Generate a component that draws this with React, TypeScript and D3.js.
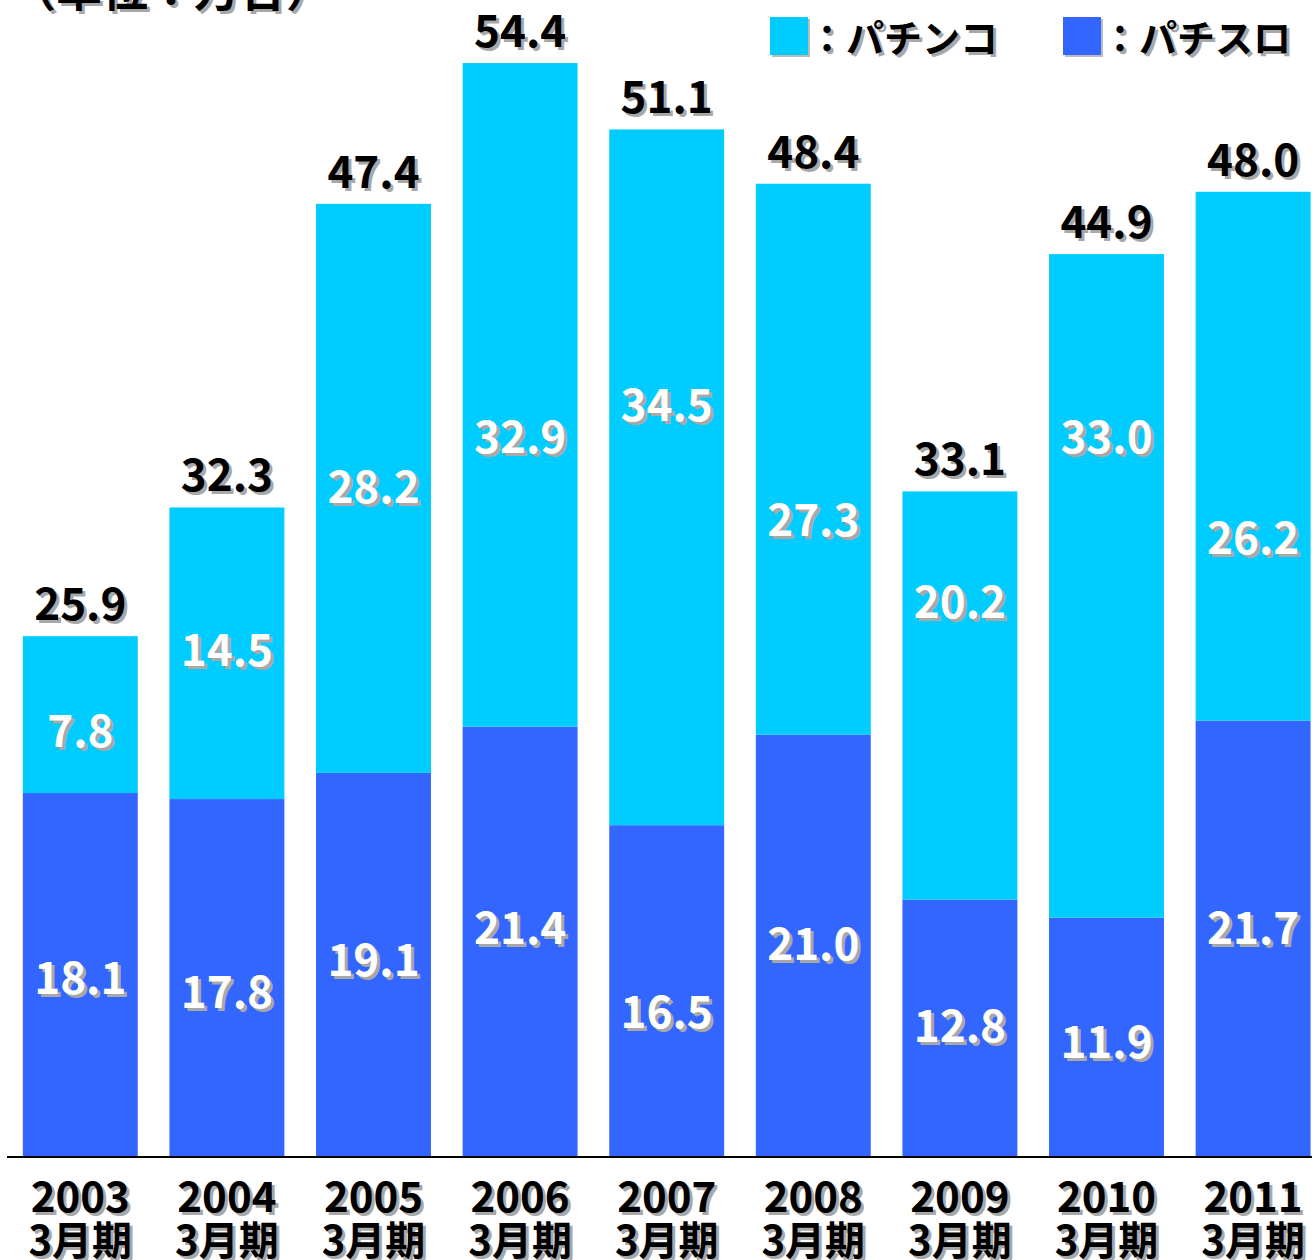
import React, { useEffect, useRef } from "react";
import * as d3 from "d3";

const years = ["2003", "2004", "2005", "2006", "2007", "2008", "2009", "2010", "2011"];
const pachislo = [18.1, 17.8, 19.1, 21.4, 16.5, 21.0, 12.8, 11.9, 21.7];
const pachinko = [7.8, 14.5, 28.2, 32.9, 34.5, 27.3, 20.2, 33.0, 26.2];
const totals = [25.9, 32.3, 47.4, 54.4, 51.1, 48.4, 33.1, 44.9, 48.0];
// where the inner labels sit, in chart units (placed by hand in the original)
const pachinkoLabelAt = [21.2, 25.2, 33.3, 35.8, 37.4, 31.7, 27.6, 35.8, 30.8];
const pachisloLabelAt = [8.9, 8.2, 9.8, 11.4, 7.2, 10.6, 6.5, 5.7, 11.4];
const periodLabel = "3月期";
const unitLabel = "（単位：万台）";
const legendItems = ["：パチンコ", "：パチスロ"];

const CYAN = "#00CCFF";
const BLUE = "#3366FF";
const FONT = "'Noto Sans CJK JP', 'Noto Sans', sans-serif";

const App: React.FC = () => {
  const svgRef = useRef<SVGSVGElement>(null);

  useEffect(() => {
    document.body.style.margin = "0";
    if (!svgRef.current) return;

    const width = 1312;
    const height = 1260;
    const baseY = 1157;

    const svg = d3.select(svgRef.current);
    svg.selectAll("*").remove();
    svg.attr("width", width).attr("height", height);

    const x = d3
      .scaleBand<string>()
      .domain(years)
      .range([7, 7 + 146.6 * years.length])
      .paddingInner(0.216)
      .paddingOuter(0.108);

    const y = d3.scaleLinear().domain([0, 55]).range([baseY, 51]);

    // text with the grey drop shadow used all over the original
    const shadowText = (
      g: d3.Selection<SVGGElement, unknown, null, undefined>,
      tx: number,
      ty: number,
      label: string,
      fill: string,
      size: number,
      anchor = "middle"
    ) => {
      [
        { dx: 3, dy: 3, c: "#a8a8a8" },
        { dx: 0, dy: 0, c: fill },
      ].forEach((s) => {
        g.append("text")
          .attr("x", tx + s.dx)
          .attr("y", ty + s.dy)
          .attr("text-anchor", anchor)
          .attr("font-family", FONT)
          .attr("font-weight", 700)
          .attr("font-size", size)
          .attr("fill", s.c)
          .text(label);
      });
    };

    const g = svg.append("g");

    // bars
    years.forEach((yr, i) => {
      const bx = x(yr) as number;
      const bw = x.bandwidth();
      g.append("rect")
        .attr("x", bx)
        .attr("y", y(pachislo[i]))
        .attr("width", bw)
        .attr("height", y(0) - y(pachislo[i]))
        .attr("fill", BLUE);
      g.append("rect")
        .attr("x", bx)
        .attr("y", y(totals[i]))
        .attr("width", bw)
        .attr("height", y(pachislo[i]) - y(totals[i]))
        .attr("fill", CYAN);
    });

    // axis line
    g.append("line")
      .attr("x1", 7)
      .attr("x2", width)
      .attr("y1", baseY)
      .attr("y2", baseY)
      .attr("stroke", "#000")
      .attr("stroke-width", 2);

    // value labels
    years.forEach((yr, i) => {
      const cx = (x(yr) as number) + x.bandwidth() / 2;
      shadowText(g, cx, y(totals[i]) - 16, totals[i].toFixed(1), "#000", 44);
      shadowText(g, cx, y(pachinkoLabelAt[i]) + 16, pachinko[i].toFixed(1), "#fff", 44);
      shadowText(g, cx, y(pachisloLabelAt[i]) + 16, pachislo[i].toFixed(1), "#fff", 44);
      shadowText(g, cx, 1212, yr, "#000", 42);
      shadowText(g, cx, 1255, periodLabel, "#000", 40);
    });

    // unit note, cut off at the top edge
    shadowText(g, 10, 6, unitLabel, "#000", 46, "start");

    // legend
    const legendX = [770, 1063];
    [CYAN, BLUE].forEach((c, i) => {
      g.append("rect")
        .attr("x", legendX[i] + 2)
        .attr("y", 19)
        .attr("width", 38)
        .attr("height", 38)
        .attr("fill", "#bbb");
      g.append("rect")
        .attr("x", legendX[i])
        .attr("y", 17)
        .attr("width", 38)
        .attr("height", 38)
        .attr("fill", c);
      shadowText(g, legendX[i] + 38, 52, legendItems[i], "#000", 38, "start");
    });
  }, []);

  return <svg ref={svgRef} style={{ display: "block" }}></svg>;
};

export default App;
